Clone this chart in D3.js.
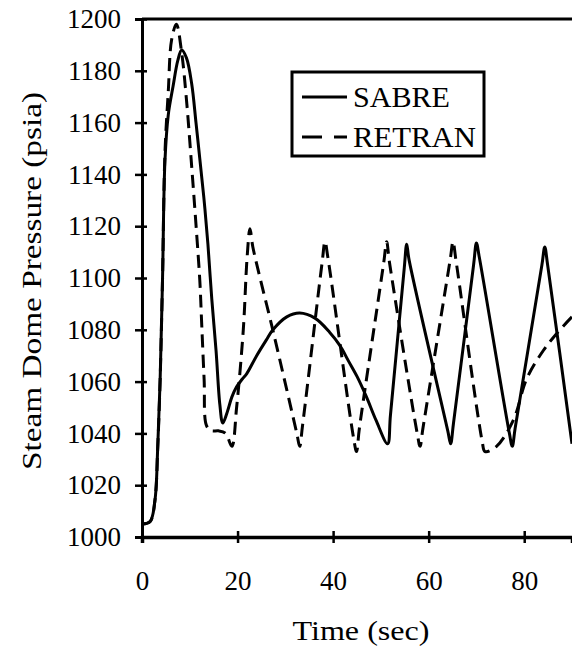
<!DOCTYPE html>
<html>
<head>
<meta charset="utf-8">
<script src="https://cdn.jsdelivr.net/npm/d3@7"></script>
<style>
  body { margin: 0; background: #fff; }
  svg { display: block; }
  text { fill: #000; }
</style>
</head>
<body>
<div id="chart"></div>
<script>
const serif = "'Times New Roman', 'Liberation Serif', Tinos, Times, serif";

// data
const sabreTime = [0, 1.7, 2.7, 3.3, 3.8, 4.3, 4.8, 5.5, 6.5, 7.5, 8.3, 9.3, 10.4, 11.3, 12.1, 13, 13.8, 14.6, 15.5, 16.3, 16.9,
  17.8, 18.8, 19.8, 21, 21.9, 24, 26, 27.4, 30.3, 33, 36.2, 39.3, 41.4, 43.2, 45, 47, 49, 51.4,
  52, 54.9, 55.4, 55.9, 64, 64.6, 65.2, 69.4, 70, 70.6, 76.9, 77.5, 78.1, 83.7, 84.3, 84.9, 90];
const sabrePressure = [1005, 1006, 1014, 1035, 1061, 1100, 1145, 1163, 1174, 1184, 1188, 1185, 1175, 1160, 1146, 1130, 1113, 1092, 1072, 1051, 1044,
  1048, 1054, 1058, 1061, 1063, 1070, 1076, 1080, 1085, 1086.5, 1084.5, 1079, 1074, 1068, 1062, 1054, 1045, 1036,
  1047, 1104, 1113, 1107, 1041, 1036, 1044, 1105, 1113.5, 1108, 1040, 1035, 1042, 1105, 1112, 1105, 1036];

const retranTime = [0, 1.7, 2.7, 3.3, 3.8, 4.3, 4.8, 5.5, 6.2, 7.2, 8.3, 9.3, 10.4, 11.4, 12.1, 12.5, 13, 13.5, 14.5, 16, 17.5, 18.8,
  19.8, 21.2, 22, 22.6, 23.2, 27.5, 32.4, 33, 33.6, 37.7, 38.3, 38.9, 44.3, 44.9, 45.5, 50.6, 51.2, 51.8, 57.6, 58.2, 58.8,
  64.5, 65.1, 65.7, 71.2, 71.8, 74.2, 77.7, 80.5, 84, 87, 90];
const retranPressure = [1005, 1006, 1014, 1035, 1061, 1100, 1148, 1172, 1192, 1198, 1187, 1169, 1143, 1118, 1099, 1082, 1061, 1043, 1041, 1041, 1040, 1035,
  1050, 1080, 1108, 1119, 1112, 1079, 1040, 1035, 1043, 1106, 1114, 1108, 1038, 1033, 1042, 1106, 1114, 1106, 1040, 1035, 1042,
  1107, 1114, 1107, 1037, 1033, 1035, 1045, 1061, 1072, 1079, 1085];

const xTicks = [0, 20, 40, 60, 80];
const yTicks = [1000, 1020, 1040, 1060, 1080, 1100, 1120, 1140, 1160, 1180, 1200];
const seriesNames = ["SABRE", "RETRAN"];

const width = 572;
const height = 648;
const margin = { top: 19, right: 0, bottom: 111, left: 142 };

const svg = d3.select("#chart").append("svg")
  .attr("width", width)
  .attr("height", height)
  .style("font-family", serif);

const x = d3.scaleLinear().domain([0, 90]).range([margin.left, width - margin.right]);
const y = d3.scaleLinear().domain([1000, 1200]).range([height - margin.bottom, margin.top]);

// curves
const line = d3.line()
  .x(d => x(d[0]))
  .y(d => y(d[1]))
  .curve(d3.curveCatmullRom.alpha(0.5));

const sabre = sabreTime.map((t, i) => [t, sabrePressure[i]]);
const retran = retranTime.map((t, i) => [t, retranPressure[i]]);

svg.append("path")
  .datum(retran)
  .attr("fill", "none")
  .attr("stroke", "#000")
  .attr("stroke-width", 3)
  .attr("stroke-dasharray", "13,7")
  .attr("d", line);

svg.append("path")
  .datum(sabre)
  .attr("fill", "none")
  .attr("stroke", "#000")
  .attr("stroke-width", 3)
  .attr("d", line);

// y axis
const yAxis = svg.append("g")
  .attr("transform", `translate(${margin.left},0)`)
  .call(d3.axisLeft(y).tickValues(yTicks).tickFormat(d3.format("d")).tickSize(7).tickPadding(14));
yAxis.select(".domain").attr("stroke-width", 3);
yAxis.selectAll(".tick line").attr("x2", -7).attr("x1", 5).attr("stroke-width", 2.5);
yAxis.selectAll(".tick text")
  .style("font-family", serif)
  .style("font-size", "27px");

// x axis
const xAxis = svg.append("g")
  .attr("transform", `translate(0,${y(1000)})`)
  .call(d3.axisBottom(x).tickValues(xTicks).tickSize(6).tickPadding(28));
xAxis.select(".domain").attr("stroke-width", 3.5);
xAxis.selectAll(".tick line").attr("y1", -6).attr("y2", 6).attr("stroke-width", 2.5);
xAxis.selectAll(".tick text")
  .style("font-family", serif)
  .style("font-size", "27px");

// top frame
svg.append("line")
  .attr("x1", x(0)).attr("x2", x(90))
  .attr("y1", y(1200)).attr("y2", y(1200))
  .attr("stroke", "#000")
  .attr("stroke-width", 3);

// axis titles
svg.append("text")
  .attr("transform", "rotate(-90)")
  .attr("x", -281)
  .attr("y", 41)
  .attr("text-anchor", "middle")
  .attr("textLength", 378)
  .attr("lengthAdjust", "spacingAndGlyphs")
  .style("font-size", "28px")
  .text("Steam Dome Pressure (psia)");

svg.append("text")
  .attr("x", 361)
  .attr("y", 640)
  .attr("text-anchor", "middle")
  .attr("textLength", 137)
  .attr("lengthAdjust", "spacingAndGlyphs")
  .style("font-size", "28px")
  .text("Time (sec)");

// legend
const legend = svg.append("g");
legend.append("rect")
  .attr("x", 292).attr("y", 72)
  .attr("width", 192).attr("height", 84)
  .attr("fill", "#fff")
  .attr("stroke", "#000")
  .attr("stroke-width", 3);

legend.selectAll("g.item")
  .data(seriesNames)
  .enter().append("g")
  .attr("class", "item")
  .attr("transform", (d, i) => `translate(0,${i * 40})`)
  .each(function(d, i) {
    const g = d3.select(this);
    g.append("line")
      .attr("x1", 302).attr("x2", 347)
      .attr("y1", 97).attr("y2", 97)
      .attr("stroke", "#000")
      .attr("stroke-width", 3)
      .attr("stroke-dasharray", i === 1 ? "20,12" : null);
    g.append("text")
      .attr("x", 353)
      .attr("y", 107)
      .attr("textLength", i === 1 ? 123 : 97)
      .attr("lengthAdjust", "spacingAndGlyphs")
      .style("font-size", "29px")
      .text(d);
  });
</script>
</body>
</html>
